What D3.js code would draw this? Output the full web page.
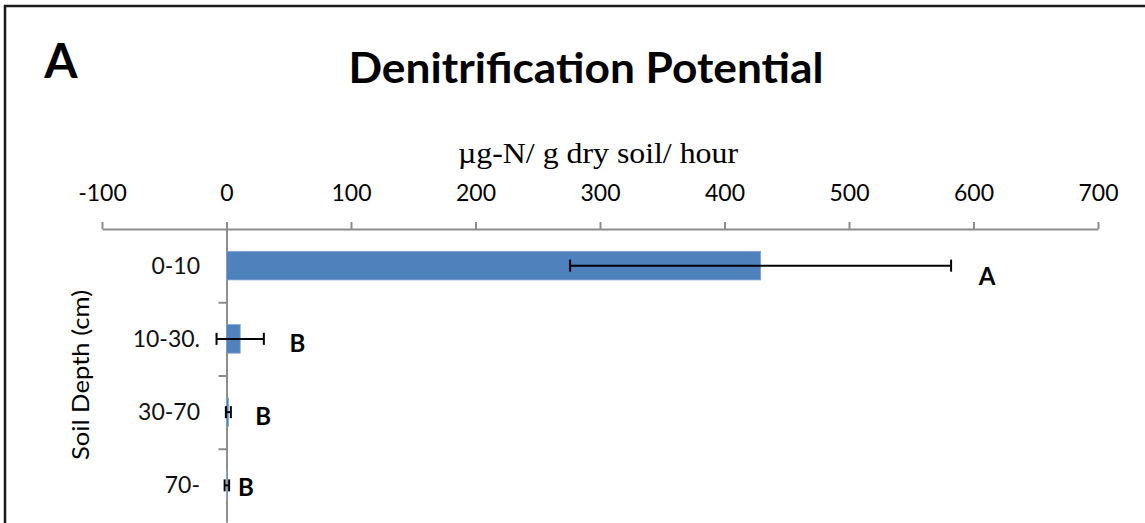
<!DOCTYPE html>
<html>
<head>
<meta charset="utf-8">
<script src="https://cdn.jsdelivr.net/npm/d3@7"></script>
<style>
  html, body { margin: 0; padding: 0; background: #fff; }
  svg { display: block; }
</style>
</head>
<body>
<svg id="chart" width="1145" height="523"></svg>
<script>
// ---- data ----
const categories = ["0-10", "10-30.", "30-70", "70-"];
const values = [429, 11, 1.5, 0.3];
const errors = [153, 19, 2, 1.8];
const letters = ["A", "B", "B", "B"];
const letterAt = [611, 57, 29.5, 15.5];   // annotation x in data units
const xTicks = [-100, 0, 100, 200, 300, 400, 500, 600, 700];

const svg = d3.select("#chart");
const font = "Lato, 'Open Sans', sans-serif";

// frame
svg.append("rect").attr("x", 5).attr("y", 6).attr("width", 1300).attr("height", 700)
  .attr("fill", "#fff").attr("stroke", "#1a1a1a").attr("stroke-width", 2.5);

const axisY = 229, yBottom = 522;
const x = d3.scaleLinear().domain([-100, 700]).range([102, 1098]);
const y = d3.scaleBand().domain(categories).range([axisY, yBottom]).paddingInner(0.61).paddingOuter(0.305);
const yIdx = d3.scaleLinear().domain([0, categories.length]).range([axisY, yBottom]);

// x axis on top
const gx = svg.append("g").attr("transform", `translate(0,${axisY})`)
  .call(d3.axisTop(x).tickValues(xTicks).tickFormat(d => String(d))
    .tickSize(7).tickPadding(21).tickSizeOuter(0));
gx.select(".domain").attr("stroke", "#8c8c8c").attr("stroke-width", 2);
gx.selectAll(".tick line").attr("stroke", "#8c8c8c").attr("stroke-width", 2);
gx.selectAll(".tick text").attr("font-family", font).attr("font-size", 23).attr("fill", "#000");

// y axis line at zero with ticks at band boundaries
const gy = svg.append("g").attr("transform", `translate(${x(0)},0)`)
  .call(d3.axisLeft(yIdx).tickValues([1, 2, 3]).tickFormat("").tickSize(8).tickSizeOuter(0));
gy.select(".domain").attr("stroke", "#8c8c8c").attr("stroke-width", 2);
gy.selectAll(".tick line").attr("stroke", "#8c8c8c").attr("stroke-width", 2);

// category labels
svg.append("g").selectAll("text").data(categories).join("text")
  .attr("x", 200).attr("y", d => y(d) + y.bandwidth() / 2 + 8)
  .attr("text-anchor", "end").attr("font-family", font).attr("font-size", 23)
  .attr("fill", "#111")
  .text(d => d);

// bars
svg.append("g").selectAll("rect").data(categories).join("rect")
  .attr("x", (d, i) => x(Math.min(0, values[i])))
  .attr("y", d => y(d))
  .attr("width", (d, i) => Math.abs(x(values[i]) - x(0)))
  .attr("height", y.bandwidth())
  .attr("fill", "#4F81BD").attr("stroke", "#7fa3d1").attr("stroke-width", 0.8);

// error bars
const eg = svg.append("g").attr("stroke", "#000").attr("stroke-width", 2);
categories.forEach((c, i) => {
  const cy = y(c) + y.bandwidth() / 2;
  const x1 = x(values[i] - errors[i]), x2 = x(values[i] + errors[i]);
  eg.append("line").attr("x1", x1).attr("x2", x2).attr("y1", cy).attr("y2", cy);
  eg.append("line").attr("x1", x1).attr("x2", x1).attr("y1", cy - 6).attr("y2", cy + 6);
  eg.append("line").attr("x1", x2).attr("x2", x2).attr("y1", cy - 6).attr("y2", cy + 6);
});

// significance letters
svg.append("g").selectAll("text").data(categories).join("text")
  .attr("x", (d, i) => x(letterAt[i]))
  .attr("y", (d, i) => y(d) + y.bandwidth() / 2 + [19, 13, 13, 11][i])
  .attr("text-anchor", "middle").attr("font-family", font).attr("font-weight", "bold")
  .attr("font-size", 24).text((d, i) => letters[i]);

// title
svg.append("text").attr("x", 586).attr("y", 83).attr("text-anchor", "middle")
  .attr("font-family", font).attr("font-weight", "bold").attr("font-size", 42)
  .attr("textLength", 475).attr("lengthAdjust", "spacingAndGlyphs")
  .text("Denitrification Potential");

// panel letter
svg.append("text").attr("x", 61).attr("y", 78).attr("text-anchor", "middle")
  .attr("font-family", font).attr("font-weight", "bold").attr("font-size", 48)
  .text("A");

// x axis title
svg.append("text").attr("x", 598).attr("y", 163).attr("text-anchor", "middle")
  .attr("font-family", "'Liberation Serif', 'DejaVu Serif', serif").attr("font-size", 29)
  .attr("textLength", 280).attr("lengthAdjust", "spacingAndGlyphs")
  .text("µg-N/ g dry soil/ hour");

// y axis title
svg.append("text").attr("transform", "translate(89,375) rotate(-90)")
  .attr("text-anchor", "middle").attr("font-family", font).attr("font-size", 24)
  .attr("textLength", 170).attr("lengthAdjust", "spacingAndGlyphs")
  .text("Soil Depth (cm)");
</script>
</body>
</html>
